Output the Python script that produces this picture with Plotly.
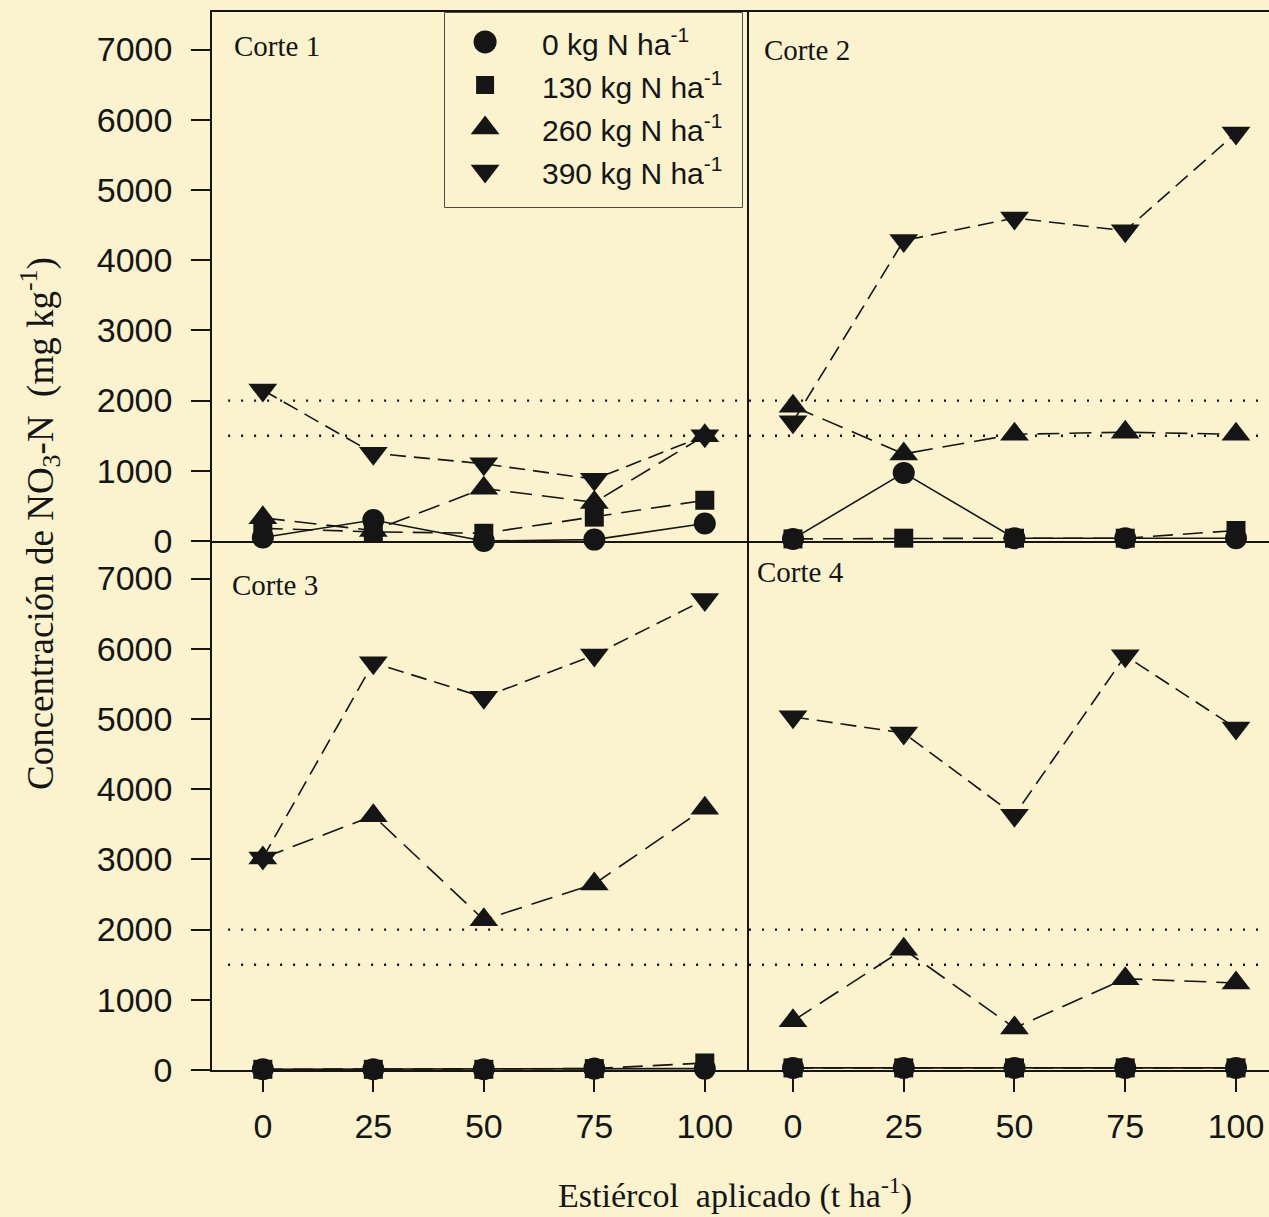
import plotly.graph_objects as go

# ---- data -------------------------------------------------------------
manure = [0, 25, 50, 75, 100]          # t ha-1
tick_labels = ["0", "25", "50", "75", "100"]
y_ticks = [0, 1000, 2000, 3000, 4000, 5000, 6000, 7000]
thresholds = [1500, 2000]              # reference levels (mg kg-1)

series_names = ["0 kg N ha<sup>-1</sup>", "130 kg N ha<sup>-1</sup>",
                "260 kg N ha<sup>-1</sup>", "390 kg N ha<sup>-1</sup>"]

corte1_n0 = [50, 300, 0, 20, 250]
corte1_n130 = [180, 130, 110, 340, 580]
corte1_n260 = [330, 150, 750, 550, 1500]
corte1_n390 = [2150, 1250, 1100, 880, 1500]

corte2_n0 = [30, 970, 40, 40, 40]
corte2_n130 = [30, 40, 40, 40, 150]
corte2_n260 = [1920, 1240, 1520, 1550, 1520]
corte2_n390 = [1700, 4280, 4600, 4420, 5810]

corte3_n0 = [10, 10, 10, 20, 20]
corte3_n130 = [10, 10, 10, 20, 100]
corte3_n260 = [3020, 3620, 2140, 2650, 3730]
corte3_n390 = [3020, 5800, 5310, 5910, 6700]

corte4_n0 = [30, 30, 30, 30, 30]
corte4_n130 = [30, 30, 30, 30, 30]
corte4_n260 = [700, 1720, 600, 1300, 1240]
corte4_n390 = [5030, 4800, 3630, 5900, 4870]

panel_titles = ["Corte 1", "Corte 2", "Corte 3", "Corte 4"]

# ---- styling ----------------------------------------------------------
W, H = 1269, 1217
BG = "#FAF3CD"
INK = "#151515"
SERIF = "Liberation Serif"
SANS = "Liberation Sans"

symbols = ["circle", "square", "triangle-up", "triangle-down"]
sizes = [22, 19, 25, 25]
dashes = ["solid", "20px,10px", "22px,10px", "16px,8px"]


def px_x(v):
    return v / W


def px_y(v):
    return 1 - v / H


panels = [
    ("x", "y", [corte1_n0, corte1_n130, corte1_n260, corte1_n390]),
    ("x2", "y2", [corte2_n0, corte2_n130, corte2_n260, corte2_n390]),
    ("x3", "y3", [corte3_n0, corte3_n130, corte3_n260, corte3_n390]),
    ("x4", "y4", [corte4_n0, corte4_n130, corte4_n260, corte4_n390]),
]

fig = go.Figure()

for xa, ya, group in panels:
    for k, vals in enumerate(group):
        fig.add_trace(go.Scatter(
            x=manure, y=vals, xaxis=xa, yaxis=ya,
            mode="lines+markers", showlegend=False, cliponaxis=False,
            line=dict(color=INK, width=1.6, dash=dashes[k]),
            marker=dict(symbol=symbols[k], size=sizes[k], color=INK),
        ))

# legend symbols on their own small axis, one trace per series
legend_sizes = [23, 18, 25, 25]
for i, name in enumerate(series_names):
    fig.add_trace(go.Scatter(
        x=[0.135], y=[i], xaxis="x5", yaxis="y5", mode="markers",
        showlegend=False, cliponaxis=False, hoverinfo="skip", opacity=1,
        marker=dict(symbol=symbols[i], size=legend_sizes[i], color=INK,
                    opacity=1, line=dict(width=0, color=INK)),
    ))

left_dom = [px_x(212), px_x(749)]
right_dom = [px_x(749), 1.0]
top_dom = [px_y(541), px_y(12)]
bot_dom = [px_y(1070), px_y(541)]
yr = [0, 7535]
left_rng = [-11.5, 110]
right_rng = [-9.93, 107.45]

line_kw = dict(showline=True, linecolor=INK, linewidth=1.5, showgrid=False,
               zeroline=False, automargin=False)
ytick_kw = dict(tickmode="array", tickvals=y_ticks, ticks="outside",
                ticklen=19, tickwidth=1.5, tickcolor=INK,
                ticklabelstandoff=12,
                tickfont=dict(family=SANS, size=34, color=INK))
xtick_kw = dict(tickmode="array", tickvals=manure, ticktext=tick_labels,
                ticks="outside", ticklen=20, tickwidth=1.5, tickcolor=INK,
                ticklabelstandoff=5,
                tickfont=dict(family=SANS, size=34, color=INK))

fig.update_layout(
    width=W, height=H, autosize=False,
    margin=dict(l=0, r=0, t=0, b=0, pad=0, autoexpand=False),
    paper_bgcolor=BG, plot_bgcolor=BG,
    showlegend=False, hovermode=False,
    # top-left
    xaxis=dict(domain=left_dom, range=left_rng, anchor="y", mirror=True,
               showticklabels=False, ticks="", **line_kw),
    yaxis=dict(domain=top_dom, range=yr, anchor="x",
               **ytick_kw, **line_kw),
    # top-right
    xaxis2=dict(domain=right_dom, range=right_rng, anchor="y2", mirror=True,
                showticklabels=False, ticks="", **line_kw),
    yaxis2=dict(domain=top_dom, range=yr, anchor="x2",
                showticklabels=False, ticks="", **line_kw),
    # bottom-left
    xaxis3=dict(domain=left_dom, range=left_rng, anchor="y3",
                **xtick_kw, **line_kw),
    yaxis3=dict(domain=bot_dom, range=yr, anchor="x3",
                **ytick_kw, **line_kw),
    # bottom-right
    xaxis4=dict(domain=right_dom, range=right_rng, anchor="y4",
                **xtick_kw, **line_kw),
    yaxis4=dict(domain=bot_dom, range=yr, anchor="x4",
                showticklabels=False, ticks="", **line_kw),
    # legend box area
    xaxis5=dict(domain=[px_x(445), px_x(742)], range=[0, 1], anchor="y5",
                visible=False, fixedrange=True),
    yaxis5=dict(domain=[px_y(207), px_y(13)], range=[3.837, -0.674],
                anchor="x5", visible=False, fixedrange=True),
)

# dotted reference levels in every panel
for xa, ya, _ in panels:
    start = 0.03 if xa in ("x", "x3") else 0.0
    for t in thresholds:
        fig.add_shape(type="line", xref=f"{xa} domain", yref=ya,
                      x0=start, x1=1, y0=t, y1=t, layer="below",
                      line=dict(color=INK, width=2.4, dash="2px,11px"))

# legend frame and labels
fig.add_shape(type="rect", xref="x5 domain", yref="y5 domain",
              x0=0, x1=1, y0=0, y1=1,
              line=dict(color=INK, width=1.5), layer="below")
for i, name in enumerate(series_names):
    fig.add_annotation(x=px_x(540), xref="paper", y=i, yref="y5",
                       text=name, showarrow=False, xanchor="left",
                       yanchor="middle",
                       font=dict(family=SANS, size=30, color=INK))

# panel titles
title_pos = [(232, 46), (762, 50), (230, 585), (755, 572)]
for name, (tx, ty) in zip(panel_titles, title_pos):
    fig.add_annotation(x=px_x(tx), y=px_y(ty), xref="paper", yref="paper",
                       text=name, showarrow=False, xanchor="left",
                       yanchor="middle",
                       font=dict(family=SERIF, size=29, color=INK))

# axis titles
fig.add_annotation(x=px_x(40), y=px_y(524), xref="paper", yref="paper",
                   text="Concentración de NO<sub>3</sub>-N  (mg kg<sup>-1</sup>)",
                   textangle=-90, showarrow=False, xanchor="center",
                   yanchor="middle",
                   font=dict(family=SERIF, size=37, color=INK))
fig.add_annotation(x=px_x(735), y=px_y(1193), xref="paper", yref="paper",
                   text="Estiércol  aplicado (t ha<sup>-1</sup>)",
                   showarrow=False, xanchor="center", yanchor="middle",
                   font=dict(family=SERIF, size=34, color=INK))

fig.write_html("out.html")
